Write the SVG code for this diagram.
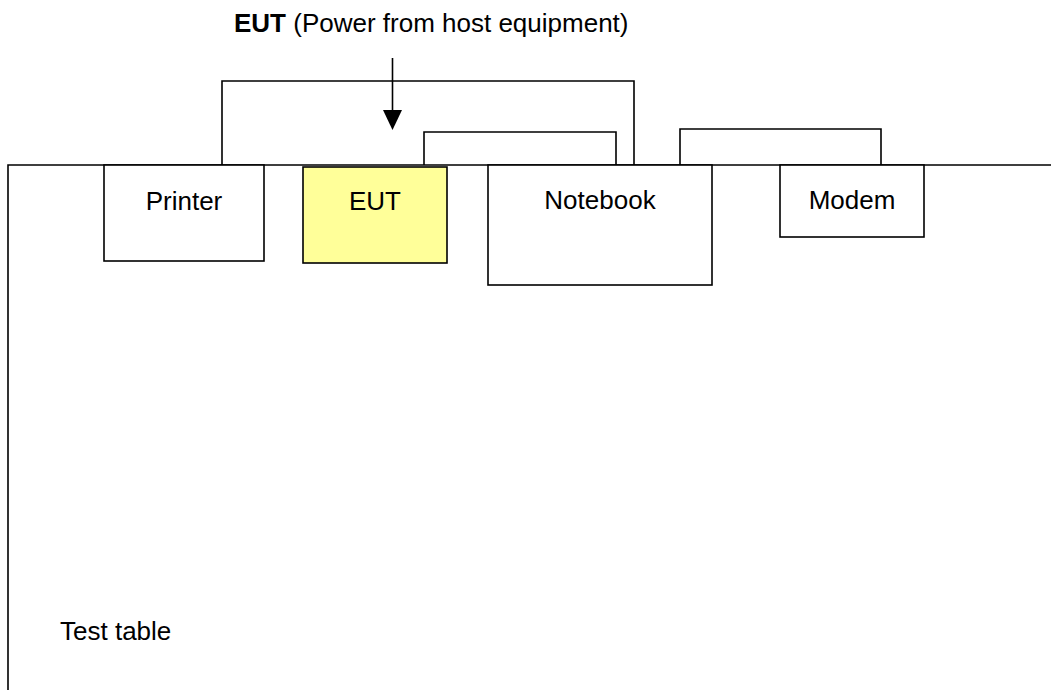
<svg xmlns="http://www.w3.org/2000/svg" width="1051" height="690" viewBox="0 0 1051 690">
<style>
.ln{fill:none;stroke:#000;stroke-width:1.6}
.box{fill:#fff;stroke:#000;stroke-width:1.6}
.eut{fill:#FFFF99;stroke:#000;stroke-width:1.6}
.t{font-family:"Liberation Sans",Arial,sans-serif;font-size:26px;fill:#000}
</style>
<rect width="1051" height="690" fill="#fff"/>
<g id="title">
<text class="t" x="234" y="32"><tspan font-weight="bold">EUT</tspan> (Power from host equipment)</text>
</g>
<g id="connectors">
<polyline class="ln" points="222,165 222,81 634,81 634,165"/>
<polyline class="ln" points="424,165 424,132 616,132 616,165"/>
<polyline class="ln" points="680,165 680,129 881,129 881,165"/>
<line class="ln" x1="392.5" y1="58" x2="392.5" y2="112"/>
<polygon points="383,110 402,110 392.5,130" fill="#000"/>
</g>
<g id="test-table">
<polyline class="ln" points="1051,165 8,165 8,690"/>
<text class="t" x="60" y="640">Test table</text>
</g>
<g id="printer">
<rect class="box" x="104" y="165" width="160" height="96"/>
<text class="t" x="184" y="210" text-anchor="middle">Printer</text>
</g>
<g id="eut">
<rect class="eut" x="303" y="167" width="144" height="96"/>
<text class="t" x="375" y="210" text-anchor="middle">EUT</text>
</g>
<g id="notebook">
<rect class="box" x="488" y="165" width="224" height="120"/>
<text class="t" x="600" y="209" text-anchor="middle">Notebook</text>
</g>
<g id="modem">
<rect class="box" x="780" y="165" width="144" height="72"/>
<text class="t" x="852" y="209" text-anchor="middle">Modem</text>
</g>
</svg>
